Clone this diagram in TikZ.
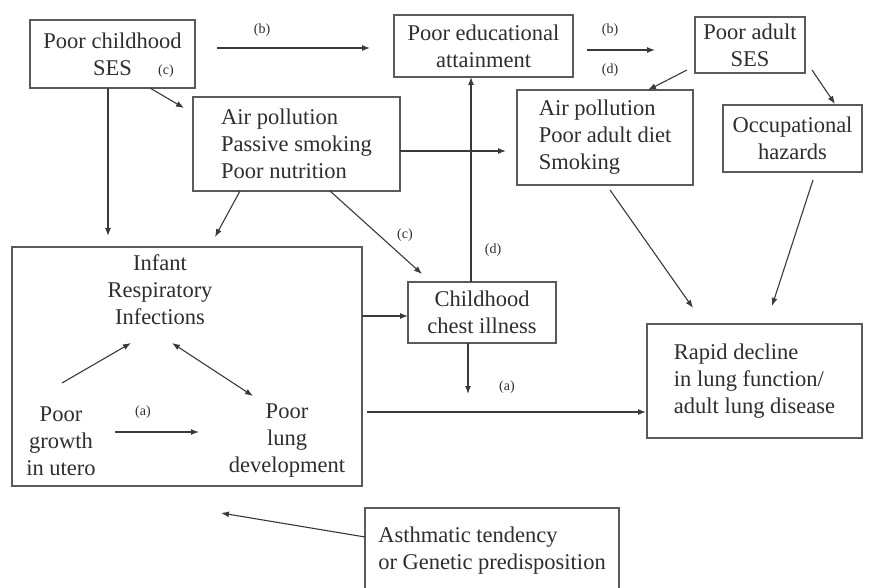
\documentclass[tikz,border=0pt]{standalone}
\usepackage{fontspec}
\setmainfont{Liberation Serif}
\usetikzlibrary{arrows.meta}
\definecolor{boxgray}{HTML}{5A5A5A}
\definecolor{txt}{HTML}{2E2E2E}
\definecolor{lin}{HTML}{3A3A3A}
\newcommand\dgMain{\fontsize{22.5}{27}\selectfont}
\newcommand\dgLab{\fontsize{14}{16}\selectfont}
\begin{document}
\begin{tikzpicture}[x=1pt,y=-1pt,
  box/.style={draw=boxgray, line width=1.3pt, inner sep=0pt, font=\dgMain, text=txt, align=center},
  lbox/.style={box, align=left},
  txtnode/.style={inner sep=0pt, font=\dgMain, text=txt, align=center},
  lab/.style={inner sep=0pt, font=\dgLab, text=txt},
  arr/.style={draw=lin, line width=1.1pt, -{Latex[length=8pt,width=6pt]}},
  darr/.style={draw=lin, line width=1.1pt, {Latex[length=8pt,width=6pt]}-{Latex[length=8pt,width=6pt]}},
  ln/.style={draw=lin, line width=1.1pt}]
\useasboundingbox (0,0) rectangle (870,588);
\fill[white] (0,0) rectangle (870,588);
\clip (0,0) rectangle (870,588);

% boxes
\node[box, minimum width=165, minimum height=68] (ses) at (112.5,54) {Poor childhood\\SES};
\node[box, minimum width=179, minimum height=62] (edu) at (483.5,46) {Poor educational\\attainment};
\node[box, minimum width=110, minimum height=56] (ases) at (750,45) {Poor adult\\SES};
\node[lbox, minimum width=207, minimum height=94] (ap1) at (296.5,144) {Air pollution\\Passive smoking\\Poor nutrition};
\node[lbox, minimum width=176, minimum height=95] (ap2) at (605,137.5) {Air pollution\\Poor adult diet\\Smoking};
\node[box, minimum width=139, minimum height=67] (occ) at (792.5,138.5) {Occupational\\hazards};
\node[box, minimum width=148, minimum height=61] (chest) at (482,312.5) {Childhood\\chest illness};
\node[lbox, minimum width=215, minimum height=114] (rapid) at (754.5,381) {Rapid decline\\in lung function/\\adult lung disease};
\node[lbox, minimum width=254, minimum height=86] (asthma) at (492,551) {Asthmatic tendency\\or Genetic predisposition};
\node[box, minimum width=350, minimum height=239] (infant) at (187,366.5) {};

% inner texts
\node[txtnode] (inf) at (160,290) {Infant\\Respiratory\\Infections};
\node[txtnode] (growth) at (61,441) {Poor\\growth\\in utero};
\node[txtnode] (lung) at (287,441) {Poor\\lung\\development};

% labels
\node[lab] (lb1) at (262,30) {(b)};
\node[lab] (lb2) at (610,30) {(b)};
\node[lab] (ld1) at (610,70) {(d)};
\node[lab] (lc1) at (166,71) {(c)};
\node[lab] (lc2) at (405,235) {(c)};
\node[lab] (ld2) at (493,250) {(d)};
\node[lab] (la1) at (507,387) {(a)};
\node[lab] (la2) at (143,412) {(a)};

% coordinates for floating ends
\coordinate (c1s) at (217,48);  \coordinate (c1e) at (370,48);
\coordinate (c2s) at (587,50);  \coordinate (c2e) at (655,50);
\coordinate (c3s) at (687,70);  \coordinate (c3e) at (648,90);
\coordinate (c4s) at (812,70);  \coordinate (c4e) at (835,104);
\coordinate (c5s) at (150,88);  \coordinate (c5e) at (184,108);
\coordinate (c6s) at (108,88);  \coordinate (c6e) at (108,236);
\coordinate (c7s) at (240,191); \coordinate (c7e) at (215,237);
\coordinate (c8s) at (330,191); \coordinate (c8e) at (422,274);
\coordinate (c9s) at (400,151); \coordinate (c9e) at (506,151);
\coordinate (c10s) at (471,282); \coordinate (c10e) at (471,77);
\coordinate (c11s) at (362,316); \coordinate (c11e) at (408,316);
\coordinate (c12s) at (468,343); \coordinate (c12e) at (468,394);
\coordinate (c13s) at (367,412); \coordinate (c13e) at (646,412);
\coordinate (c14s) at (610,190); \coordinate (c14e) at (693,308);
\coordinate (c15s) at (813,180); \coordinate (c15e) at (772,306);
\coordinate (c16s) at (365,537); \coordinate (c16e) at (221,513);
\coordinate (c17s) at (62,383); \coordinate (c17e) at (131,343);
\coordinate (c18s) at (172,343); \coordinate (c18e) at (253,396);
\coordinate (c19s) at (115,432); \coordinate (c19e) at (199,432);

% connectors
\draw[arr] (c1s) -- (c1e);
\draw[arr] (c2s) -- (c2e);
\draw[arr] (c3s) -- (c3e);
\draw[arr] (c4s) -- (c4e);
\draw[arr] (c5s) -- (c5e);
\draw[arr] (c6s) -- (c6e);
\draw[arr] (c7s) -- (c7e);
\draw[arr] (c8s) -- (c8e);
\draw[arr] (c9s) -- (c9e);
\draw[arr] (c10s) -- (c10e);
\draw[arr] (c11s) -- (c11e);
\draw[arr] (c12s) -- (c12e);
\draw[arr] (c13s) -- (c13e);
\draw[arr] (c14s) -- (c14e);
\draw[arr] (c15s) -- (c15e);
\draw[arr] (c16s) -- (c16e);
\draw[arr] (c17s) -- (c17e);
\draw[darr] (c18s) -- (c18e);
\draw[arr] (c19s) -- (c19e);
\end{tikzpicture}
\end{document}
